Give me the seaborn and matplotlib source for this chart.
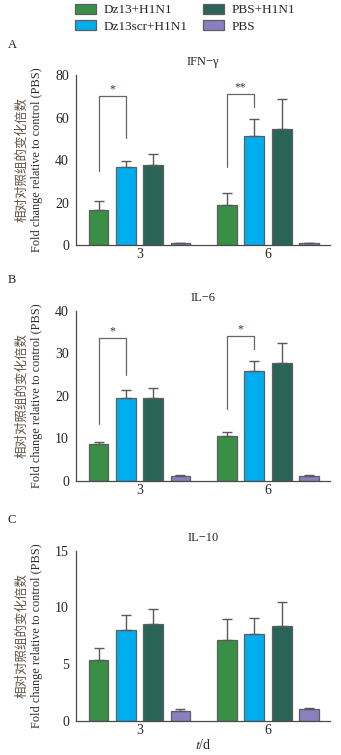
import matplotlib
matplotlib.use('Agg')
import matplotlib.pyplot as plt
import seaborn as sns
import pandas as pd
from matplotlib.patches import Patch

# 數據
days = ['3', '6']
groups = ['Dz13+H1N1', 'Dz13scr+H1N1', 'PBS+H1N1', 'PBS']
colors = ['#3a8f46', '#00aeef', '#2a6459', '#8a80c0']

ifn_mean = [[16.8, 18.8], [37.0, 51.3], [37.6, 54.5], [1.0, 1.0]]
ifn_err = [[4.0, 6.0], [2.4, 7.8], [5.5, 14.2], [0.15, 0.15]]
il6_mean = [[8.6, 10.6], [19.6, 25.8], [19.6, 27.8], [1.1, 1.2]]
il6_err = [[0.6, 0.8], [1.7, 2.4], [2.2, 4.5], [0.3, 0.2]]
il10_mean = [[5.4, 7.1], [8.0, 7.66], [8.5, 8.4], [0.9, 1.03]]
il10_err = [[1.0, 1.9], [1.34, 1.4], [1.4, 2.1], [0.13, 0.14]]

# 顯著性標記: (頂部, 左腳底, 右腳底)
ifn_brackets = [(70, 35, 50.5), (71, 37, 65)]
ifn_stars = ['*', '**']
il6_brackets = [(33.6, 13.3, 25), (34, 16.8, 30.9)]
il6_stars = ['*', '*']

panels = [
    ('A', 'IFN\u2212\u03b3', ifn_mean, ifn_err, 80, 20, ifn_brackets, ifn_stars),
    ('B', 'IL\u22126', il6_mean, il6_err, 40, 10, il6_brackets, il6_stars),
    ('C', 'IL\u221210', il10_mean, il10_err, 15, 5, [], []),
]

sns.set_style('white')
plt.rcParams['font.family'] = ['Liberation Serif', 'Noto Sans CJK SC']
plt.rcParams['mathtext.fontset'] = 'stix'

W, H = 341, 755
fig = plt.figure(figsize=(W / 100, H / 100), dpi=100)

axis_col = '#4a4a4a'
text_col = '#2a221e'
tops = [75, 310.7, 550.7]
letter_y = [45, 280, 520]

for k, (letter, title, means, errs, ymax, ystep, brackets, stars) in enumerate(panels):
    top = tops[k]
    ax = fig.add_axes([76 / W, 1 - (top + 170.3) / H, 254 / W, 170.3 / H])
    rows = []
    for gi, g in enumerate(groups):
        for di, d in enumerate(days):
            rows.append({'day': d, 'group': g, 'value': means[gi][di], 'err': errs[gi][di]})
    df = pd.DataFrame(rows)
    sns.barplot(data=df, x='day', y='value', hue='group', hue_order=groups, order=days,
                palette=colors, saturation=1, width=0.85, gap=0.27, errorbar=None,
                edgecolor='#5e5e5e', linewidth=0.9, legend=False, ax=ax)

    bar_conts = list(ax.containers)
    centers = {}
    for gi, cont in enumerate(bar_conts):
        bars = sorted(cont.patches, key=lambda p: p.get_x())
        for di, bar in enumerate(bars):
            cx = bar.get_x() + bar.get_width() / 2
            centers[(gi, di)] = cx
            ax.errorbar(cx, bar.get_height(), yerr=[[0], [errs[gi][di]]], fmt='none',
                        ecolor='#5a5a5a', elinewidth=1, capsize=3.6, capthick=1, zorder=1)

    for di, (ytop, yl, yr) in enumerate(brackets):
        xl, xr = centers[(0, di)], centers[(1, di)]
        ax.plot([xl, xl, xr, xr], [yl, ytop, ytop, yr], color='#666666', lw=0.9, zorder=3)
        ax.annotate(stars[di], ((xl + xr) / 2, ytop), xytext=(0, 0.5), textcoords='offset points',
                    ha='center', va='bottom', fontsize=8.5, color='#4a2e22')

    ax.set_xlim(-0.494, 1.482)
    ax.set_ylim(0, ymax)
    ax.set_yticks(range(0, ymax + 1, ystep))
    ax.set_xlabel('')
    ax.set_ylabel('')
    for s in ['top', 'right']:
        ax.spines[s].set_visible(False)
    for s in ['left', 'bottom']:
        ax.spines[s].set_color(axis_col)
        ax.spines[s].set_linewidth(0.9)
    ax.tick_params(axis='y', direction='out', length=3, width=0.8, color=axis_col,
                   labelsize=10, labelcolor=text_col, pad=2)
    ax.tick_params(axis='x', direction='in', length=3, width=0.8, color=axis_col,
                   labelsize=10, labelcolor=text_col, pad=2)
    ax.set_title(title, fontsize=9, color=text_col, pad=7)

    cy = 1 - (top + 85) / H
    fig.text(22 / W, cy, '相对对照组的变化倍数', rotation=90, ha='center', va='center',
             fontsize=9, color='#5e524a', family=['Noto Sans CJK SC'])
    fig.text(37 / W, cy, 'Fold change relative to control (PBS)', rotation=90,
             ha='center', va='center', fontsize=8.8, color='#2e2e2e')
    fig.text(12 / W, 1 - letter_y[k] / H, letter, ha='center', va='center',
             fontsize=9, color=text_col)

    if k == 2:
        ax.set_xlabel('$t$/d', fontsize=10, color=text_col, labelpad=1)

handles = [Patch(facecolor=c, edgecolor='#5e5e5e', linewidth=0.9) for c in colors]
fig.legend(handles, groups, loc='upper left', bbox_to_anchor=(75 / W, 1 - 4 / H), ncol=2,
           frameon=False, fontsize=9.5, handlelength=1.6, handleheight=0.75,
           handletextpad=0.6, columnspacing=1.1, labelspacing=0.3, borderpad=0,
           borderaxespad=0)

fig.savefig('out.png', dpi=100)
